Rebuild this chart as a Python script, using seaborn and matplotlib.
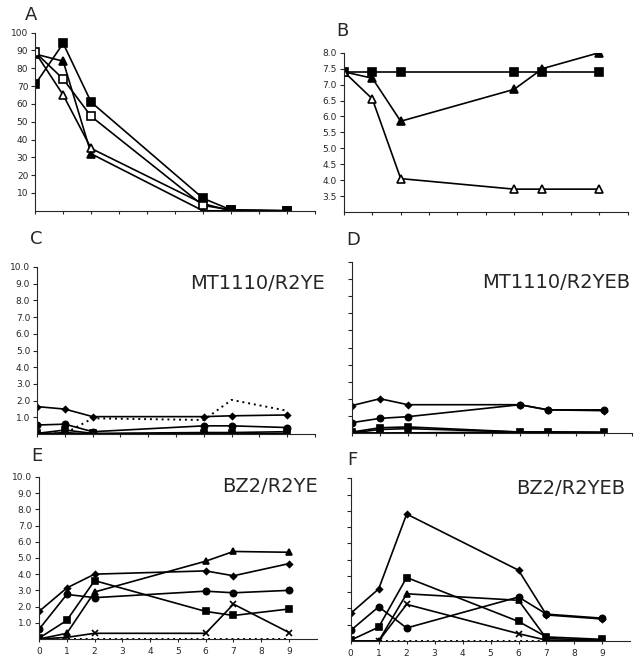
import numpy as np
import pandas as pd
import seaborn as sns
import matplotlib.pyplot as plt

sns.set_style("ticks")
plt.rcParams['font.family'] = ['DejaVu Sans']

days = [0, 1, 2, 6, 7, 9]

# panel A
a_sq_filled = [71, 94, 61, 7, 0.5, 0]
a_sq_open = [89, 74, 53, 3, 0.5, 0]
a_tri_filled = [88, 84, 32, 0, 0, 0]
a_tri_open = [89, 65, 35, 4, 0, 0]

# panel B
b_sq_filled = [7.4, 7.4, 7.4, 7.4, 7.4, 7.4]
b_tri_filled = [7.4, 7.2, 5.85, 6.85, 7.5, 8.0]
b_tri_open = [7.4, 6.55, 4.05, 3.72, 3.72, 3.72]

# panel C  MT1110/R2YE
c_diamond = [1.65, 1.5, 1.05, 1.05, 1.1, 1.15]
c_circle = [0.55, 0.6, 0.15, 0.5, 0.5, 0.4]
c_square = [0.05, 0.25, 0.05, 0.1, 0.1, 0.15]
c_triangle = [0, 0.1, 0, 0, 0, 0.05]
c_cross = [0, 0, 0, 0, 0, 0]
c_dotted = [0.05, 0.05, 0.95, 0.85, 2.05, 1.4]

# panel D  MT1110/R2YEB
d_diamond = [1.6, 2.0, 1.65, 1.65, 1.35, 1.3]
d_circle = [0.6, 0.85, 0.95, 1.65, 1.35, 1.35]
d_square = [0.05, 0.3, 0.35, 0.05, 0.05, 0.05]
d_triangle = [0, 0.2, 0.25, 0.05, 0.05, 0]
d_cross = [0, 0, 0, 0.05, 0.05, 0]
d_dotted = [0, 0, 0, 0, 0, 0]

# panel E  BZ2/R2YE
e_diamond = [1.7, 3.15, 4.0, 4.2, 3.9, 4.65]
e_circle = [0.6, 2.75, 2.55, 2.95, 2.85, 3.0]
e_square = [0.05, 1.15, 3.6, 1.7, 1.45, 1.85]
e_triangle = [0, 0.35, 2.9, 4.8, 5.4, 5.35]
e_cross = [0, 0.1, 0.35, 0.35, 2.15, 0.4]
e_dotted = [0, 0, 0, 0, 0, 0]

# panel F  BZ2/R2YEB
f_diamond = [1.7, 3.2, 7.8, 4.35, 1.6, 1.35]
f_circle = [0.65, 2.1, 0.8, 2.7, 1.65, 1.4]
f_square = [0.05, 0.85, 3.9, 1.2, 0.25, 0.1]
f_triangle = [0, 0, 2.9, 2.5, 0.15, 0.05]
f_cross = [0, 0, 2.25, 0.45, 0.05, 0]
f_dotted = [0, 0, 0, 0, 0, 0]

fig = plt.figure(figsize=(6.4, 6.67), dpi=100)
axA = fig.add_axes([0.055, 0.684, 0.437, 0.267])
axB = fig.add_axes([0.5375, 0.682, 0.443, 0.239])
axC = fig.add_axes([0.058, 0.349, 0.434, 0.251])
axD = fig.add_axes([0.55, 0.351, 0.437, 0.256])
axE = fig.add_axes([0.061, 0.042, 0.434, 0.243])
axF = fig.add_axes([0.548, 0.039, 0.437, 0.244])


def line(ax, y, marker, filled=True, ms=6, ls='-'):
    sns.lineplot(x=days, y=y, ax=ax, color='k', lw=1.2, linestyle=ls,
                 marker=marker, markersize=ms,
                 markerfacecolor='k' if filled else 'white',
                 markeredgecolor='k', markeredgewidth=1.2)


line(axA, a_tri_filled, '^', ms=6)
line(axA, a_tri_open, '^', filled=False, ms=6)
line(axA, a_sq_open, 's', filled=False, ms=6)
line(axA, a_sq_filled, 's', ms=6)

line(axB, b_sq_filled, 's', ms=6)
line(axB, b_tri_filled, '^', ms=6)
line(axB, b_tri_open, '^', filled=False, ms=6)

for ax, dia, cir, sq, tri, cr, dot in [
        (axC, c_diamond, c_circle, c_square, c_triangle, c_cross, c_dotted),
        (axD, d_diamond, d_circle, d_square, d_triangle, d_cross, d_dotted),
        (axE, e_diamond, e_circle, e_square, e_triangle, e_cross, e_dotted),
        (axF, f_diamond, f_circle, f_square, f_triangle, f_cross, f_dotted)]:
    sns.lineplot(x=days, y=dot, ax=ax, color='k', lw=1.4, linestyle=(0, (1, 2)))
    line(ax, cr, 'x', ms=5)
    line(ax, tri, '^', ms=4.5)
    line(ax, sq, 's', ms=4.3)
    line(ax, cir, 'o', ms=4.5)
    line(ax, dia, 'D', ms=3)

for ax in [axA, axB, axC, axD, axE, axF]:
    ax.set_xlim(0, 10)
    ax.set_xticks(range(0, 11))
    ax.set_xticklabels([])
    ax.tick_params(axis='x', length=2, width=0.8)
    ax.tick_params(axis='y', length=3, width=0.8, labelsize=6.5, pad=2)
    ax.set_xlabel('')
    ax.set_ylabel('')
    for s in ['left', 'bottom']:
        ax.spines[s].set_linewidth(0.8)
    sns.despine(ax=ax)

axA.set_ylim(0, 100)
axA.set_yticks(range(10, 101, 10))

axB.set_ylim(3.0, 8.0)
axB.set_yticks(np.arange(3.5, 8.01, 0.5))
axB.set_yticklabels([f'{v:.1f}' for v in np.arange(3.5, 8.01, 0.5)])

for ax in [axC, axD, axE, axF]:
    ax.set_ylim(0, 10)
    ax.set_yticks(range(1, 11))
for ax in [axC, axE]:
    ax.set_yticklabels([f'{v:.1f}' for v in range(1, 11)])
for ax in [axD, axF]:
    ax.set_yticklabels([])

for ax in [axE, axF]:
    ax.set_xticks(range(0, 10))
    ax.set_xticklabels([str(i) for i in range(0, 10)], fontsize=6.5)

for x, y, t in [(325, 283, 'MT1110/R2YE'), (630, 282, 'MT1110/R2YEB'),
                (318, 487, 'BZ2/R2YE'), (625, 488, 'BZ2/R2YEB')]:
    fig.text(x / 640, 1 - y / 667, t, fontsize=14, ha='right', va='center')

for x, y, lab in [(31, 15, 'A'), (342, 31, 'B'), (36, 239, 'C'),
                  (353, 240, 'D'), (37, 456, 'E'), (352, 460, 'F')]:
    fig.text(x / 640, 1 - y / 667, lab, fontsize=13, ha='center', va='center')

fig.savefig('out.png', dpi=100, facecolor='white')
